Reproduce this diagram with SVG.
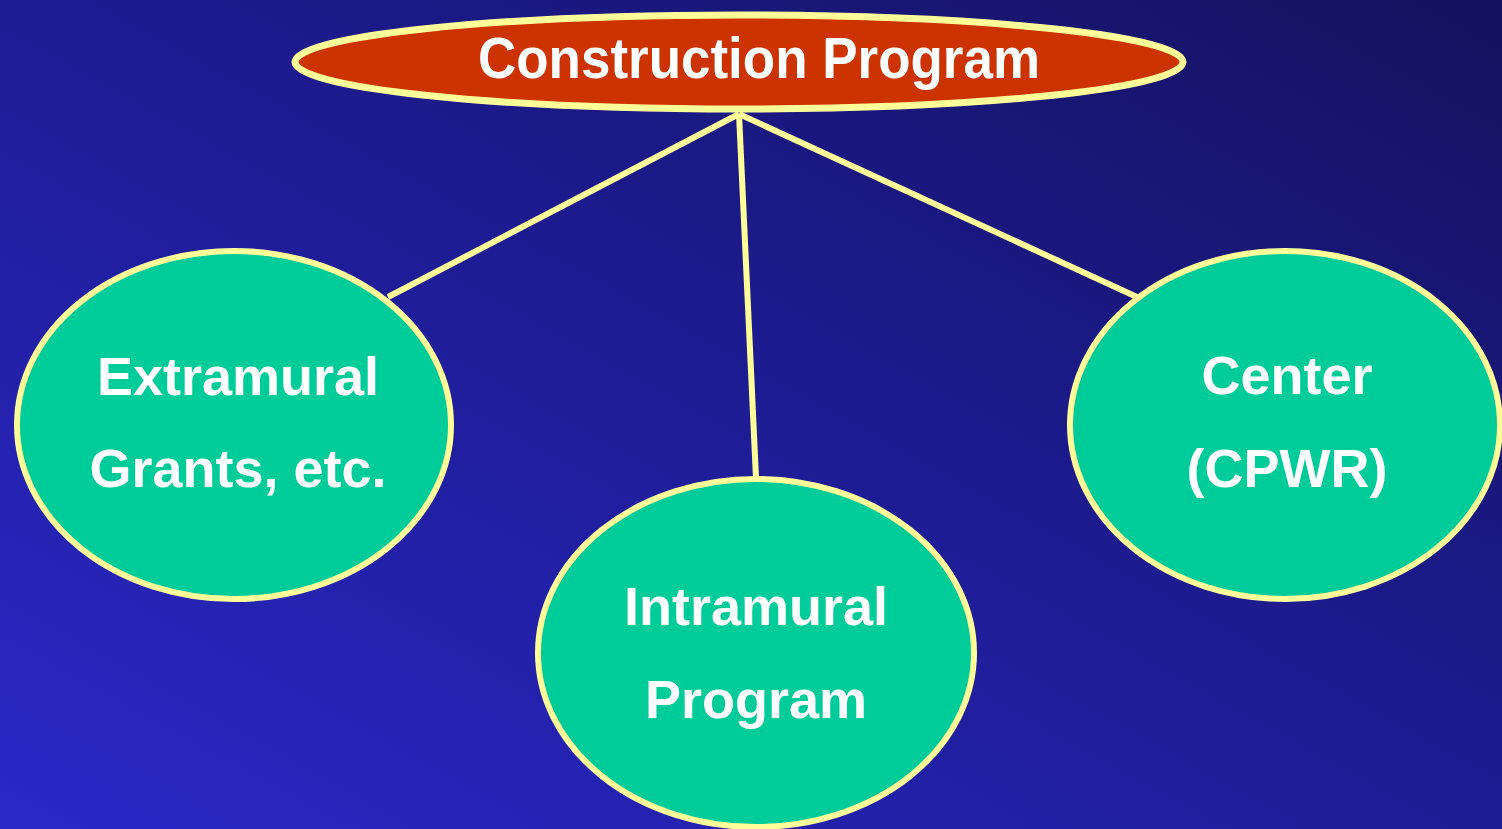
<svg xmlns="http://www.w3.org/2000/svg" width="1502" height="829" viewBox="0 0 1502 829">
<defs>
<linearGradient id="bg" x1="400" y1="1050" x2="1102" y2="-221" gradientUnits="userSpaceOnUse">
<stop offset="0" stop-color="#2a28c8"/>
<stop offset="0.5" stop-color="#1e1c94"/>
<stop offset="1" stop-color="#14125e"/>
</linearGradient>
<style>
.node{fill:#00CC99;stroke:#FFFF99;stroke-width:6}
.root{fill:#CC3300;stroke:#FFFF99;stroke-width:7}
.lbl{font-family:"Liberation Sans",Arial,sans-serif;font-weight:bold;fill:#FFFFFF;text-anchor:middle}
.edge{stroke:#FFFF99;stroke-width:6;fill:none}
</style>
</defs>
<rect width="1502" height="829" fill="url(#bg)"/>
<g id="connectors">
<line class="edge" x1="739" y1="114" x2="388" y2="297"/>
<line class="edge" x1="739" y1="114" x2="756" y2="478"/>
<line class="edge" x1="739" y1="114" x2="1137" y2="297"/>
</g>
<g id="root">
<ellipse class="root" cx="739" cy="62" rx="444" ry="47"/>
<text class="lbl" x="759" y="78" font-size="58" textLength="562" lengthAdjust="spacingAndGlyphs">Construction Program</text>
</g>
<g id="extramural">
<ellipse class="node" cx="234" cy="425" rx="217" ry="174"/>
<text class="lbl" x="238" y="395" font-size="54">Extramural</text>
<text class="lbl" x="238" y="487" font-size="54">Grants, etc.</text>
</g>
<g id="intramural">
<ellipse class="node" cx="756" cy="653" rx="218" ry="174"/>
<text class="lbl" x="756" y="625" font-size="54">Intramural</text>
<text class="lbl" x="756" y="718" font-size="54">Program</text>
</g>
<g id="center">
<ellipse class="node" cx="1285" cy="425" rx="215" ry="174"/>
<text class="lbl" x="1287" y="394" font-size="54">Center</text>
<text class="lbl" x="1287" y="487" font-size="54">(CPWR)</text>
</g>
</svg>
